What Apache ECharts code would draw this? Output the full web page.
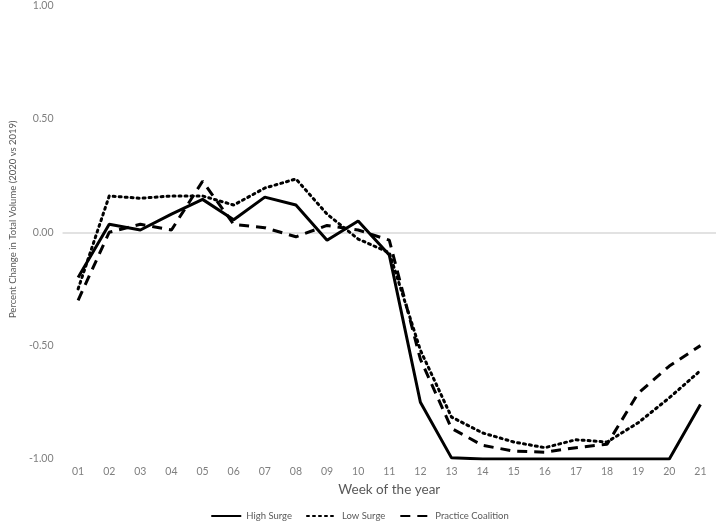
<!DOCTYPE html>
<html>
<head>
<meta charset="utf-8">
<script src="https://cdn.jsdelivr.net/npm/echarts@6/dist/echarts.min.js"></script>
<style>html,body{margin:0;padding:0;background:#fff}#c{width:719px;height:521px}</style>
</head>
<body>
<div id="c"></div>
<script>
const weeks = ['01','02','03','04','05','06','07','08','09','10','11','12','13','14','15','16','17','18','19','20','21'];
const highSurge = [-0.20,0.035,0.01,0.08,0.145,0.055,0.155,0.12,-0.035,0.05,-0.10,-0.75,-0.995,-1.0,-1.0,-1.0,-1.0,-1.0,-1.0,-1.0,-0.76];
const lowSurge = [-0.25,0.16,0.15,0.16,0.16,0.12,0.195,0.235,0.08,-0.03,-0.09,-0.52,-0.815,-0.885,-0.925,-0.95,-0.915,-0.925,-0.84,-0.73,-0.61];
const practiceCoalition = [-0.30,0.0,0.035,0.01,0.225,0.035,0.02,-0.02,0.03,0.01,-0.035,-0.56,-0.865,-0.94,-0.965,-0.97,-0.95,-0.935,-0.71,-0.59,-0.50];
const yTicks = [-1, -0.5, 0, 0.5, 1];

const chart = echarts.init(document.getElementById('c'), null, {renderer:'canvas'});
const font = 'Lato, "Open Sans", sans-serif';
const gray = '#595959';
const lightGray = '#7f7f7f';
chart.setOption({
  animation:false,
  textStyle:{fontFamily:font},
  grid:{left:44,right:3,top:5,bottom:62,containLabel:false},
  legend:{
    top:506, left:'center', itemWidth:30, itemHeight:10, itemGap:14, padding:[5,5,0,5],
    itemStyle:{opacity:0},
    textStyle:{color:gray,fontSize:9.5,fontFamily:font},
    data:['High Surge','Low Surge','Practice Coalition']
  },
  xAxis:{
    type:'category', data:weeks, boundaryGap:true,
    name:'Week of the year', nameLocation:'middle', nameGap:24,
    nameTextStyle:{color:gray,fontSize:13.5,fontFamily:font},
    axisLine:{show:false,onZero:false}, axisTick:{show:false},
    axisLabel:{color:lightGray,fontSize:10.5,margin:7,fontFamily:font},
    splitLine:{show:false}
  },
  yAxis:{
    type:'value', min:yTicks[0], max:yTicks[yTicks.length-1], interval:0.5,
    name:'Percent Change in Total Volume (2020 vs 2019)', nameLocation:'middle', nameGap:36,
    nameTextStyle:{color:gray,fontSize:9.5,fontFamily:font,padding:[0,0,0,26]},
    axisLine:{show:false}, axisTick:{show:false},
    axisLabel:{color:lightGray,fontSize:10.5,margin:9,fontFamily:font,formatter:v=>v.toFixed(2)},
    splitLine:{show:true,lineStyle:{color:['rgba(0,0,0,0)','rgba(0,0,0,0)','#d9d9d9','rgba(0,0,0,0)','rgba(0,0,0,0)'],width:1.5}}
  },
  series:[
    {name:'High Surge',type:'line',data:highSurge,symbol:'none',lineStyle:{color:'#000',width:3,type:'solid'},itemStyle:{color:'#000'}},
    {name:'Low Surge',type:'line',data:lowSurge,symbol:'none',lineStyle:{color:'#000',width:3,type:[2,4],cap:'round'},itemStyle:{color:'#000'}},
    {name:'Practice Coalition',type:'line',data:practiceCoalition,symbol:'none',lineStyle:{color:'#000',width:3,type:[10,7]},itemStyle:{color:'#000'}}
  ]
});
</script>
</body>
</html>
